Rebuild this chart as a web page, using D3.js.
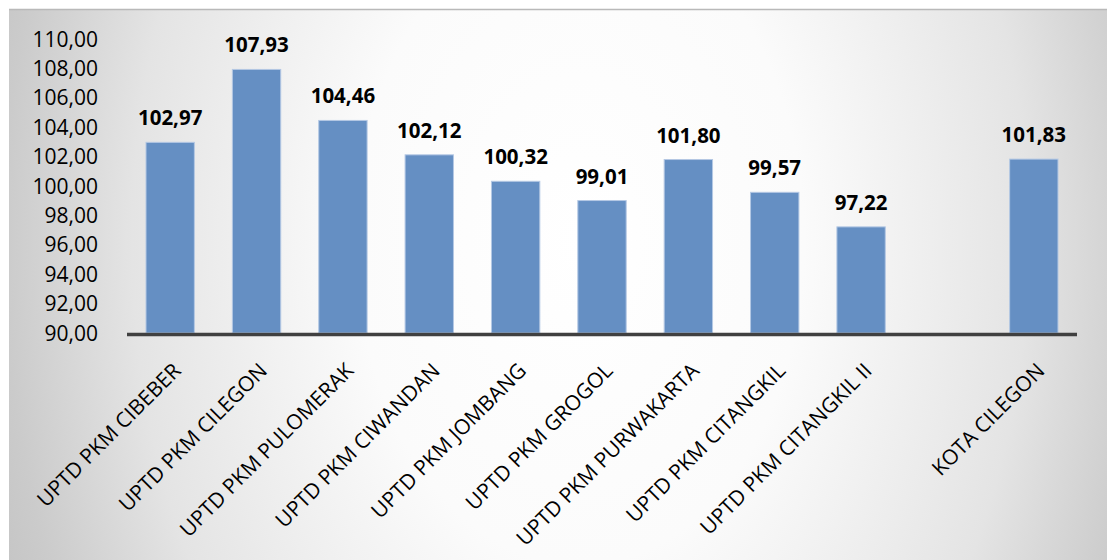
<!DOCTYPE html>
<html>
<head>
<meta charset="utf-8">
<script src="https://cdn.jsdelivr.net/npm/d3@7"></script>
<style>
  html, body { margin: 0; padding: 0; background: #ffffff; }
  svg { display: block; }
</style>
</head>
<body>
<svg id="chart" width="1112" height="560"></svg>
<script>
// Puskesmas units and the city total; the blank entry keeps a gap before the total
const categories = [
  "UPTD PKM CIBEBER",
  "UPTD PKM CILEGON",
  "UPTD PKM PULOMERAK",
  "UPTD PKM CIWANDAN",
  "UPTD PKM JOMBANG",
  "UPTD PKM GROGOL",
  "UPTD PKM PURWAKARTA",
  "UPTD PKM CITANGKIL",
  "UPTD PKM CITANGKIL II",
  "",
  "KOTA CILEGON"
];
const values = [102.97, 107.93, 104.46, 102.12, 100.32, 99.01, 101.80, 99.57, 97.22, null, 101.83];
const yTicks = [90, 92, 94, 96, 98, 100, 102, 104, 106, 108, 110];

const fmt = v => d3.format(".2f")(v).replace(".", ",");

const svg = d3.select("#chart");
const W = 1112, H = 560;

// panel background with soft radial shading
const defs = svg.append("defs");
const grad = defs.append("radialGradient")
  .attr("id", "bg")
  .attr("gradientUnits", "userSpaceOnUse")
  .attr("cx", 580).attr("cy", 240).attr("r", 640)
  .attr("gradientTransform", "translate(580,240) scale(1,1.45) translate(-580,-240)");
[[0, "#ffffff"], [0.35, "#fbfbfb"], [0.7, "#e4e4e4"], [0.9, "#cbcbcb"], [1, "#c2c2c2"]]
  .forEach(([o, c]) => grad.append("stop").attr("offset", o).attr("stop-color", c));

svg.append("rect")
  .attr("x", 9).attr("y", 9).attr("width", 1098).attr("height", H - 9)
  .attr("fill", "url(#bg)");
svg.append("line")
  .attr("x1", 9).attr("x2", 1107).attr("y1", 9.5).attr("y2", 9.5)
  .attr("stroke", "#b9b9b9").attr("stroke-width", 1.5);

const x = d3.scaleBand().domain(d3.range(categories.length)).range([127, 1077]).paddingInner(0.44).paddingOuter(0.22);
const y = d3.scaleLinear().domain([90, 110]).range([333, 39]);

const font = "'Open Sans', 'Noto Sans', sans-serif";

// y-axis labels
svg.append("g").selectAll("text").data(yTicks).join("text")
  .attr("x", 98).attr("y", d => y(d))
  .attr("dy", "0.36em")
  .attr("text-anchor", "end")
  .attr("font-family", font).attr("font-size", 21)
  .attr("fill", "#000")
  .text(d => fmt(d));

// bars
const barData = values.map((v, i) => ({ i, v })).filter(d => d.v != null);
svg.append("g").selectAll("rect").data(barData).join("rect")
  .attr("x", d => x(d.i))
  .attr("y", d => y(d.v))
  .attr("width", x.bandwidth())
  .attr("height", d => y(90) - y(d.v))
  .attr("fill", "#658fc3")
  .attr("stroke", "#b4c8e4")
  .attr("stroke-width", 1);

// value labels
svg.append("g").selectAll("text").data(barData).join("text")
  .attr("x", d => x(d.i) + x.bandwidth() / 2)
  .attr("y", d => y(d.v) - 17)
  .attr("text-anchor", "middle")
  .attr("font-family", font).attr("font-size", 20.5).attr("font-weight", "bold")
  .attr("fill", "#000")
  .text(d => fmt(d.v));

// category axis line
svg.append("line")
  .attr("x1", 127).attr("x2", 1077)
  .attr("y1", y(90) + 1.5).attr("y2", y(90) + 1.5)
  .attr("stroke", "#404040").attr("stroke-width", 3.5);

// rotated category labels
svg.append("g").selectAll("text").data(categories.map((c, i) => ({ c, i })).filter(d => d.c)).join("text")
  .attr("transform", d => `translate(${x(d.i) + x.bandwidth() / 2 + 12},372) rotate(-45)`)
  .attr("text-anchor", "end")
  .attr("font-family", font).attr("font-size", 21)
  .attr("fill", "#000")
  .text(d => d.c);
</script>
</body>
</html>
